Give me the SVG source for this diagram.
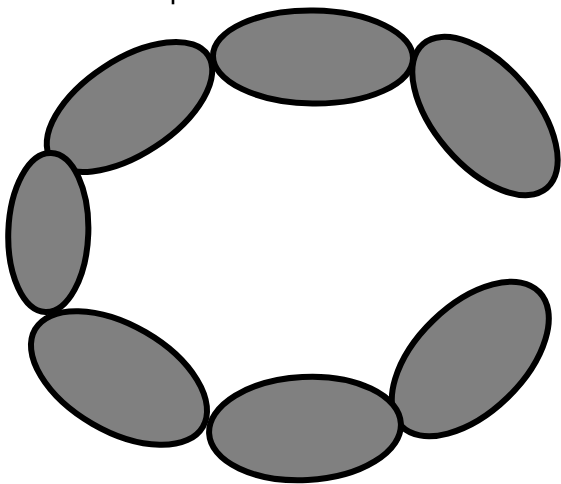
<svg xmlns="http://www.w3.org/2000/svg" width="561" height="484" viewBox="0 0 561 484">
<style>
.n{fill:#808080;stroke:#000;stroke-width:6}
</style>
<rect width="561" height="484" fill="#fff"/>
<line x1="173" y1="0" x2="173" y2="4.3" stroke="#000" stroke-width="2.6"/>
<g id="n0"><ellipse class="n" cx="129.5" cy="107" rx="94" ry="47.4" transform="rotate(-33.3 129.5 107)"/></g>
<g id="n1"><ellipse class="n" cx="313" cy="57" rx="100" ry="46.5" transform="rotate(0.8 313 57)"/></g>
<g id="n2"><ellipse class="n" cx="485" cy="116" rx="95" ry="50.3" transform="rotate(49.35 485 116)"/></g>
<g id="n3"><ellipse class="n" cx="48.3" cy="232.5" rx="40" ry="79.5" transform="rotate(2 48.3 232.5)"/></g>
<g id="n4"><ellipse class="n" cx="119" cy="378" rx="97" ry="53" transform="rotate(30.1 119 378)"/></g>
<g id="n6"><ellipse class="n" cx="470.3" cy="359" rx="96.2" ry="53.6" transform="rotate(-44.1 470.3 359)"/></g>
<g id="n5"><ellipse class="n" cx="305" cy="428.5" rx="96" ry="51.6" transform="rotate(-3 305 428.5)"/></g>
<g id="connectors"></g>
</svg>
